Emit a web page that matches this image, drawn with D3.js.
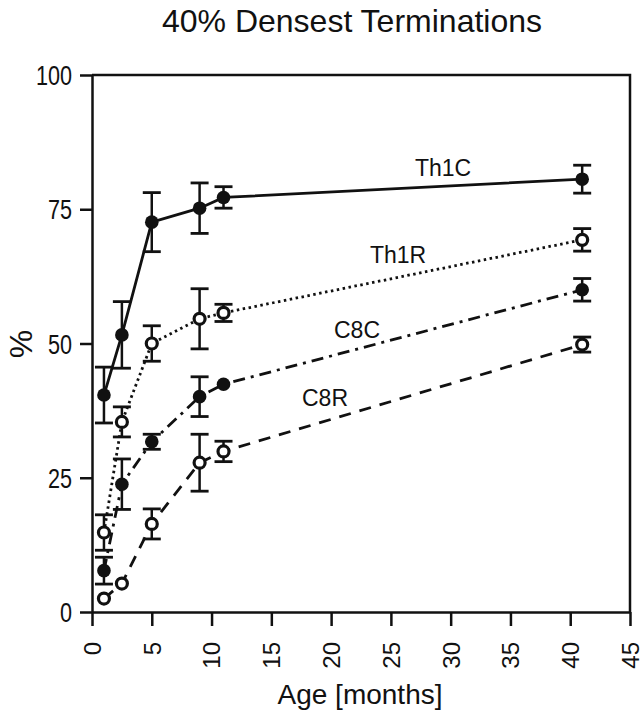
<!DOCTYPE html>
<html>
<head>
<meta charset="utf-8">
<script src="https://cdn.jsdelivr.net/npm/d3@7"></script>
<style>
  body { margin: 0; background: #fff; }
  text { font-family: "Liberation Sans", Arial, Helvetica, sans-serif; fill: #111; }
</style>
</head>
<body>
<div id="chart"></div>
<script>
// Data
const AGES = [1, 2.5, 5, 9, 11, 41];
const TH1C = [40.4, 51.6, 72.6, 75.2, 77.2, 80.6];
const TH1C_ERR = [5.2, 6.2, 5.5, 4.7, 2.0, 2.6];
const TH1R = [14.8, 35.4, 50.0, 54.6, 55.7, 69.3];
const TH1R_ERR = [3.3, 2.8, 3.3, 5.6, 1.6, 2.1];
const C8C = [7.7, 23.8, 31.7, 40.1, 42.4, 60.0];
const C8C_ERR = [2.5, 4.7, 1.4, 3.7, 0, 2.1];
const C8R = [2.5, 5.3, 16.4, 27.8, 29.9, 49.8];
const C8R_ERR = [0, 0, 2.8, 5.3, 1.9, 1.4];
const X_TICKS = [0, 5, 10, 15, 20, 25, 30, 35, 40, 45];
const Y_TICKS = [0, 25, 50, 75, 100];

const FRAME_WIDTH = 644;
const FRAME_HEIGHT = 719;
const MARGINS = {left: 92, right: 14, top: 75, bottom: 107};
const VIS_WIDTH = FRAME_WIDTH - MARGINS.left - MARGINS.right;
const VIS_HEIGHT = FRAME_HEIGHT - MARGINS.top - MARGINS.bottom;

const SERIES = [
  {name: "Th1C", values: TH1C, err: TH1C_ERR, filled: true, dash: null, label: [443, 168]},
  {name: "Th1R", values: TH1R, err: TH1R_ERR, filled: false, dash: "2.5,3.5", label: [398, 255]},
  {name: "C8C", values: C8C, err: C8C_ERR, filled: true, dash: "12,6,3,6", label: [357, 330]},
  {name: "C8R", values: C8R, err: C8R_ERR, filled: false, dash: "12,9", label: [325, 398]}
];

const FRAME1 = d3.select("#chart")
  .append("svg")
    .attr("width", FRAME_WIDTH)
    .attr("height", FRAME_HEIGHT);

const X_SCALE = d3.scaleLinear().domain([0, 45]).range([0, VIS_WIDTH]);
const Y_SCALE = d3.scaleLinear().domain([0, 100]).range([VIS_HEIGHT, 0]);

const G = FRAME1.append("g")
  .attr("transform", "translate(" + MARGINS.left + "," + MARGINS.top + ")");

// frame (top + right)
G.append("path")
  .attr("d", "M0,0H" + VIS_WIDTH + "V" + VIS_HEIGHT)
  .attr("fill", "none").attr("stroke", "#111").attr("stroke-width", 2.5);

// x axis
const xAxis = G.append("g")
  .attr("transform", "translate(0," + VIS_HEIGHT + ")")
  .call(d3.axisBottom(X_SCALE).tickValues(X_TICKS).tickSize(14).tickSizeOuter(0));
xAxis.selectAll("text")
  .attr("transform", "rotate(-90)")
  .attr("text-anchor", "end")
  .attr("x", -30).attr("y", 0).attr("dy", "0.35em")
  .style("font-size", "24px");

// y axis
const yAxis = G.append("g")
  .call(d3.axisLeft(Y_SCALE).tickValues(Y_TICKS).tickSize(12).tickSizeOuter(0));
yAxis.selectAll("text")
  .attr("x", 0).attr("dy", "0.36em")
  .attr("transform", "translate(-20,0) scale(0.8,1)")
  .style("font-size", "27px");

[xAxis, yAxis].forEach(a => {
  a.select(".domain").attr("stroke", "#111").attr("stroke-width", 2.5);
  a.selectAll(".tick line").attr("stroke", "#111").attr("stroke-width", 2.5);
  a.selectAll("text").attr("fill", "#111").style("font-family", "'Liberation Sans', Arial, sans-serif");
});

const line = d3.line()
  .x((d, i) => X_SCALE(AGES[i]))
  .y(d => Y_SCALE(d));

SERIES.forEach(s => {
  G.append("path")
    .datum(s.values)
    .attr("d", line)
    .attr("fill", "none")
    .attr("stroke", "#111")
    .attr("stroke-width", 2.8)
    .attr("stroke-dasharray", s.dash);
});

SERIES.forEach(s => {
  const grp = G.append("g");
  s.values.forEach((v, i) => {
    const e = s.err[i];
    const cx = X_SCALE(AGES[i]);
    if (e > 0) {
      grp.append("line")
        .attr("x1", cx).attr("x2", cx)
        .attr("y1", Y_SCALE(v + e)).attr("y2", Y_SCALE(v - e))
        .attr("stroke", "#111").attr("stroke-width", 2.5);
      [v + e, v - e].forEach(t => {
        grp.append("line")
          .attr("x1", cx - 9).attr("x2", cx + 9)
          .attr("y1", Y_SCALE(t)).attr("y2", Y_SCALE(t))
          .attr("stroke", "#111").attr("stroke-width", 2.8);
      });
    }
  });
  grp.selectAll("circle")
    .data(s.values)
    .enter().append("circle")
      .attr("cx", (d, i) => X_SCALE(AGES[i]))
      .attr("cy", d => Y_SCALE(d))
      .attr("r", s.filled ? 6.8 : 5.5)
      .attr("fill", s.filled ? "#111" : "#fff")
      .attr("stroke", "#111")
      .attr("stroke-width", s.filled ? 0 : 3.2);
});

// series labels
SERIES.forEach(s => {
  FRAME1.append("text")
    .attr("x", s.label[0]).attr("y", s.label[1])
    .attr("text-anchor", "middle")
    .attr("dy", "0.35em")
    .style("font-size", "23px")
    .text(s.name);
});

// title
FRAME1.append("text")
  .attr("x", 352).attr("y", 32)
  .attr("text-anchor", "middle")
  .style("font-size", "32px")
  .text("40% Densest Terminations");

// axis titles
FRAME1.append("text")
  .attr("x", 360).attr("y", 704)
  .attr("text-anchor", "middle")
  .style("font-size", "28px")
  .text("Age [months]");

FRAME1.append("text")
  .attr("transform", "translate(32,344) rotate(-90)")
  .attr("text-anchor", "middle")
  .style("font-size", "32px")
  .text("%");
</script>
</body>
</html>
